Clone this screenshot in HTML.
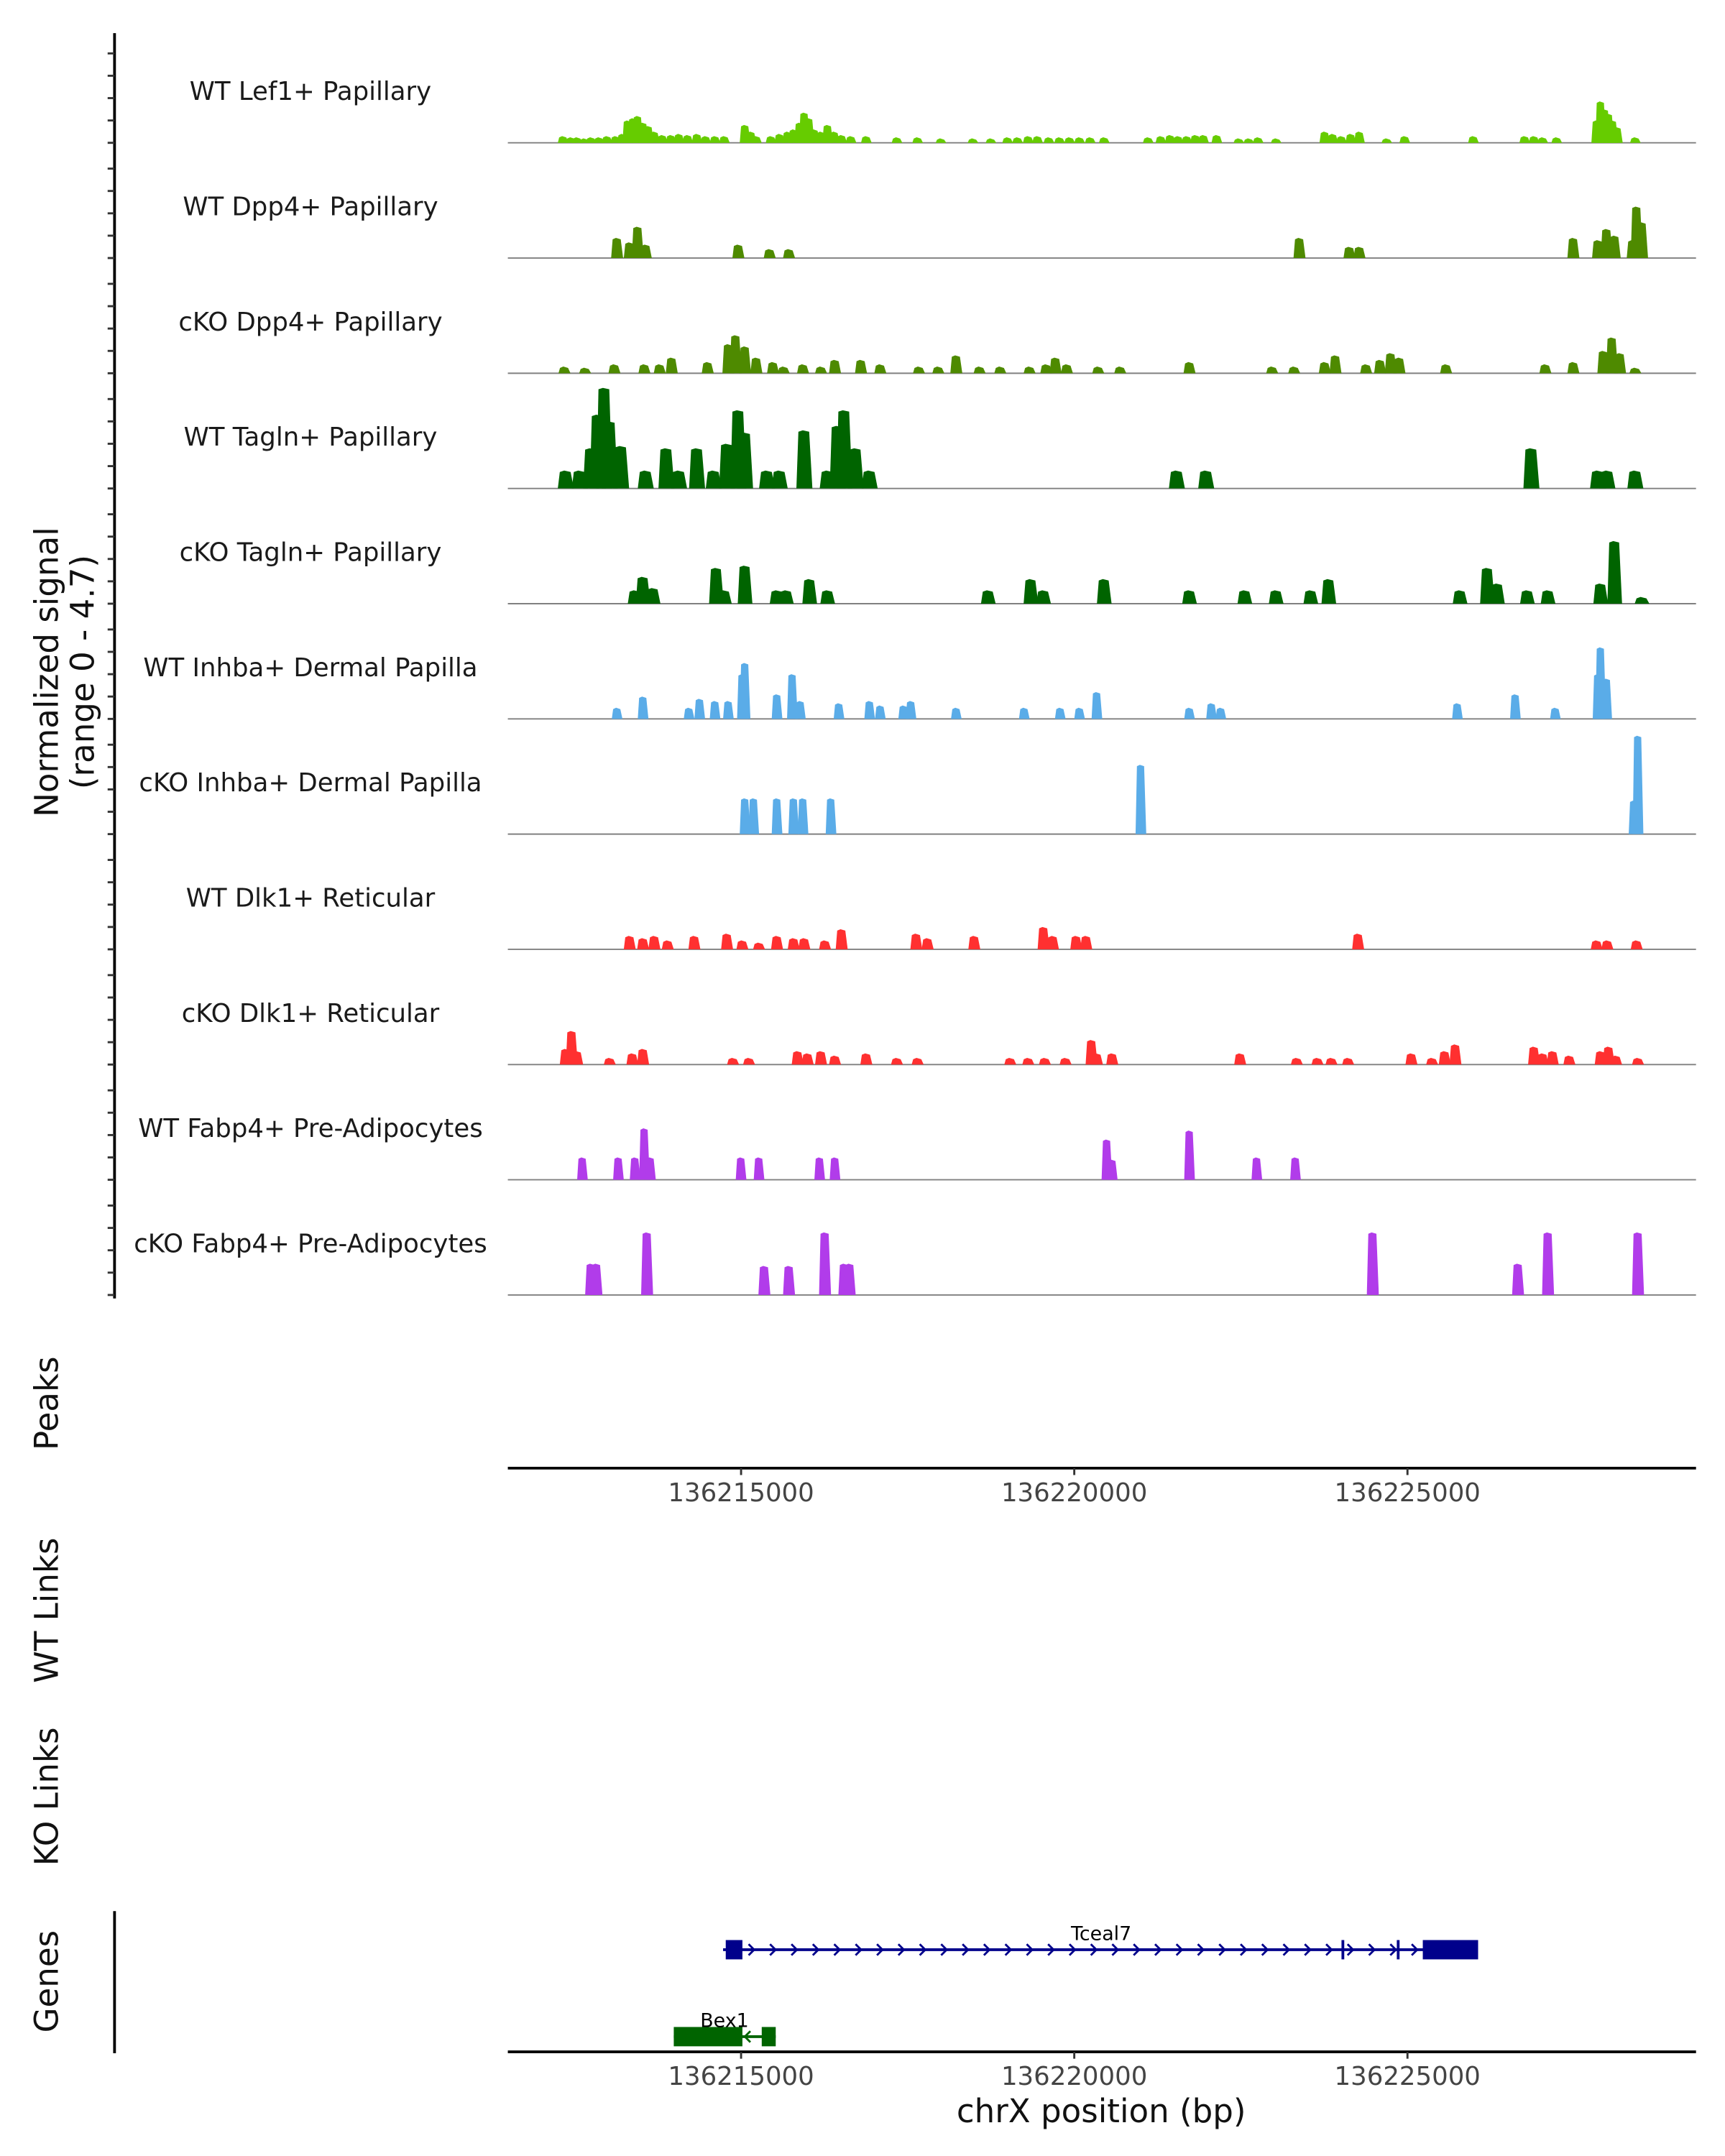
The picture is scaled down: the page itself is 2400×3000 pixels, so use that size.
<!DOCTYPE html>
<html><head><meta charset="utf-8"><style>
html,body{margin:0;padding:0;background:#fff}
svg{display:block}
text{font-family:"DejaVu Sans","Liberation Sans",sans-serif}
</style></head><body>
<svg id="chart" width="2400" height="3000" viewBox="0 0 1250 1562.5" xmlns="http://www.w3.org/2000/svg">
<text transform="translate(42,487) rotate(-90)" text-anchor="middle" font-size="23.5" fill="#111">Normalized signal</text>
<text transform="translate(68,487) rotate(-90)" text-anchor="middle" font-size="23.5" fill="#111">(range 0 - 4.7)</text>
<text transform="translate(42,1017) rotate(-90)" text-anchor="middle" font-size="23.5" fill="#111">Peaks</text>
<text transform="translate(42,1167) rotate(-90)" text-anchor="middle" font-size="23.5" fill="#111">WT Links</text>
<text transform="translate(42,1302) rotate(-90)" text-anchor="middle" font-size="23.5" fill="#111">KO Links</text>
<text transform="translate(42,1436) rotate(-90)" text-anchor="middle" font-size="23.5" fill="#111">Genes</text>
<text x="798" y="1538" text-anchor="middle" font-size="23.5" fill="#111">chrX position (bp)</text>
<line x1="83" y1="24" x2="83" y2="941" stroke="#000" stroke-width="2"/>
<line x1="83" y1="1385" x2="83" y2="1488" stroke="#000" stroke-width="2"/>
<line x1="368" y1="1064" x2="1229" y2="1064" stroke="#000" stroke-width="2"/>
<line x1="368" y1="1487" x2="1229" y2="1487" stroke="#000" stroke-width="2"/>
<g id="tracks"></g>
<g id="genes"></g>
</svg>
<script>
// genomic positions in kb on chrX (136,000 kb offset added below), values in normalized signal units
const xTicks = [136215000, 136220000, 136225000];
const trackNames = ["WT Lef1+ Papillary","WT Dpp4+ Papillary","cKO Dpp4+ Papillary","WT Tagln+ Papillary","cKO Tagln+ Papillary","WT Inhba+ Dermal Papilla","cKO Inhba+ Dermal Papilla","WT Dlk1+ Reticular","cKO Dlk1+ Reticular","WT Fabp4+ Pre-Adipocytes","cKO Fabp4+ Pre-Adipocytes"];
const trackColors = ["#66CC00","#4E8A00","#4E8A00","#006400","#006400","#5AACE8","#5AACE8","#FF3030","#FF3030","#B13CEA","#B13CEA"];
const lef1Pos = [212.33,212.45,212.54,212.65,212.75,212.87,212.99,213.12,213.22,213.30,213.38,213.45,213.53,213.61,213.70,213.82,213.95,214.07,214.20,214.34,214.47,214.61,214.75,215.06,215.15,215.23,215.45,215.58,215.70,215.79,215.88,215.95,216.02,216.10,216.20,216.30,216.40,216.51,216.65,216.88,217.34,217.65,218.00,218.48,218.75,219.00,219.15,219.31,219.45,219.62,219.78,219.93,220.08,220.24,220.45,221.11,221.30,221.44,221.56,221.69,221.82,221.94,222.14,222.47,222.62,222.76,223.03,223.76,223.88,224.01,224.15,224.28,224.69,224.96,225.99,226.76,226.90,227.03,227.24,227.84,227.90,227.96,228.02,228.08,228.15,228.42];
const lef1Val = [0.3,0.25,0.25,0.2,0.25,0.25,0.3,0.3,0.4,1.0,1.1,1.2,0.9,0.75,0.5,0.35,0.35,0.4,0.35,0.4,0.3,0.3,0.3,0.8,0.5,0.3,0.3,0.4,0.5,0.6,0.9,1.35,1.1,0.6,0.5,0.8,0.5,0.35,0.3,0.3,0.25,0.25,0.2,0.2,0.2,0.25,0.25,0.3,0.3,0.25,0.25,0.25,0.25,0.25,0.25,0.25,0.3,0.35,0.3,0.3,0.35,0.35,0.35,0.2,0.2,0.25,0.2,0.5,0.4,0.3,0.4,0.5,0.2,0.3,0.3,0.3,0.3,0.25,0.25,1.0,1.85,1.5,1.3,1.0,0.7,0.25];
const wtDpp4Pos = [213.14,213.33,213.45,213.57,214.96,215.43,215.72,223.38,224.13,224.28,227.49,227.86,227.99,228.11,228.38,228.44,228.52];
const wtDpp4Val = [0.9,0.7,1.4,0.6,0.6,0.4,0.4,0.9,0.5,0.5,0.9,0.8,1.3,1.0,0.8,2.3,1.6];
const koDpp4Pos = [212.35,212.66,213.10,213.55,213.78,213.96,214.50,214.81,214.92,215.06,215.23,215.48,215.64,215.93,216.20,216.41,216.80,217.09,217.67,217.96,218.23,218.58,218.89,219.33,219.58,219.72,219.89,220.36,220.69,221.73,222.97,223.30,223.76,223.92,224.38,224.59,224.75,224.88,225.58,227.07,227.49,227.94,228.07,228.19,228.42];
const koDpp4Val = [0.3,0.25,0.4,0.4,0.4,0.7,0.5,1.3,1.7,1.2,0.7,0.5,0.3,0.4,0.3,0.6,0.6,0.4,0.3,0.3,0.8,0.3,0.3,0.3,0.4,0.7,0.4,0.3,0.3,0.5,0.3,0.3,0.5,0.8,0.4,0.6,0.9,0.7,0.4,0.4,0.5,1.0,1.6,0.9,0.25];
const wtTaglnPos = [212.37,212.58,212.75,212.85,212.95,213.03,213.20,213.57,213.88,214.07,214.34,214.59,214.79,214.96,215.06,215.39,215.58,215.95,216.30,216.45,216.55,216.72,216.93,221.54,221.98,226.86,227.86,228.00,228.42];
const wtTaglnVal = [0.8,0.8,1.8,3.3,4.5,3.0,1.9,0.8,1.8,0.8,1.8,0.8,2.0,3.5,2.5,0.8,0.8,2.6,0.8,2.8,3.5,1.8,0.8,0.8,0.8,1.8,0.8,0.8,0.8];
const koTaglnPos = [213.41,213.53,213.68,214.63,214.75,215.06,215.54,215.68,216.03,216.30,218.71,219.35,219.54,220.45,221.73,222.56,223.03,223.55,223.82,225.79,226.20,226.35,226.80,227.11,227.90,228.11,228.52];
const koTaglnVal = [0.6,1.2,0.7,1.6,0.6,1.7,0.6,0.6,1.1,0.6,0.6,1.1,0.6,1.1,0.6,0.6,0.6,0.6,1.1,0.6,1.6,0.9,0.6,0.6,0.9,2.8,0.3];
const wtInhbaPos = [213.14,213.53,214.22,214.38,214.61,214.81,215.02,215.06,215.54,215.77,215.89,216.47,216.93,217.09,217.44,217.55,218.23,219.25,219.79,220.08,220.34,221.73,222.06,222.20,225.75,226.62,227.22,227.86,227.90,227.99];
const wtInhbaVal = [0.5,1.0,0.5,0.9,0.8,0.8,2.0,2.5,1.1,2.0,0.8,0.7,0.8,0.6,0.6,0.8,0.5,0.5,0.5,0.5,1.2,0.5,0.7,0.5,0.7,1.1,0.5,2.0,3.2,1.8];
const koInhbaPos = [215.06,215.19,215.54,215.79,215.93,216.35,221.00,228.40,228.46];
const koInhbaVal = [1.6,1.6,1.6,1.6,1.6,1.6,3.1,1.5,4.4];
const wtDlk1Pos = [213.33,213.53,213.70,213.90,214.30,214.79,215.02,215.27,215.54,215.79,215.95,216.26,216.51,217.63,217.80,218.50,219.54,219.68,220.03,220.18,224.26,227.84,228.00,228.44];
const wtDlk1Val = [0.6,0.5,0.6,0.4,0.6,0.7,0.4,0.3,0.6,0.5,0.5,0.4,0.9,0.7,0.5,0.6,1.0,0.6,0.6,0.6,0.7,0.4,0.4,0.4];
const koDlk1Pos = [212.37,212.46,212.54,213.03,213.37,213.53,214.88,215.12,215.85,216.00,216.20,216.41,216.88,217.34,217.65,219.04,219.31,219.56,219.87,220.26,220.34,220.57,222.49,223.34,223.65,223.86,224.11,225.06,225.37,225.56,225.72,226.90,227.03,227.18,227.43,227.90,228.02,228.13,228.46];
const koDlk1Val = [0.7,1.5,0.6,0.3,0.5,0.7,0.3,0.3,0.6,0.5,0.6,0.4,0.5,0.3,0.3,0.3,0.3,0.3,0.3,1.1,0.5,0.5,0.5,0.3,0.3,0.3,0.3,0.5,0.3,0.6,0.9,0.8,0.5,0.6,0.4,0.6,0.8,0.4,0.3];
const wtFabp4Pos = [212.62,213.16,213.41,213.55,213.64,215.00,215.27,216.18,216.41,220.49,220.57,221.73,222.74,223.32];
const wtFabp4Val = [1.0,1.0,1.0,2.3,1.0,1.0,1.0,1.0,1.0,1.8,0.9,2.2,1.0,1.0];
const koFabp4Pos = [212.75,212.83,213.59,215.35,215.72,216.26,216.55,216.63,224.48,226.66,227.11,228.46];
const koFabp4Val = [1.4,1.4,2.8,1.3,1.3,2.8,1.4,1.4,2.8,1.4,2.8,2.8];
const trackPos = [lef1Pos,wtDpp4Pos,koDpp4Pos,wtTaglnPos,koTaglnPos,wtInhbaPos,koInhbaPos,wtDlk1Pos,koDlk1Pos,wtFabp4Pos,koFabp4Pos];
const trackVal = [lef1Val,wtDpp4Val,koDpp4Val,wtTaglnVal,koTaglnVal,wtInhbaVal,koInhbaVal,wtDlk1Val,koDlk1Val,wtFabp4Val,koFabp4Val];
const tcealExons = [[214.77,215.02],[224.01,224.05],[224.84,224.88],[225.23,226.06]];
const tcealSpan = [214.73,226.06];
const bex1Exons = [[213.99,215.02],[215.31,215.52]];
const bex1Span = [213.99,215.52];

const NS="http://www.w3.org/2000/svg";
const X0=368, X1=1229, BP0=136211500, BP1=136229330;
function xs(bp){return X0+(bp-BP0)/(BP1-BP0)*(X1-X0);}
function kb(v){return 136000000+v*1000;}
const UNIT=16.2, B0=103.5, STEP=83.5;
function ys(i,v){return B0+i*STEP-v*UNIT;}
function mk(tag,attrs,parent){const e=document.createElementNS(NS,tag);for(const k in attrs)e.setAttribute(k,attrs[k]);parent.appendChild(e);return e;}
const svg=document.getElementById('chart');
const tg=document.getElementById('tracks');
const hw=[0.08,0.09,0.09,0.12,0.11,0.08,0.08,0.09,0.09,0.08,0.09];
trackNames.forEach((name,i)=>{
  const b=ys(i,0);
  for(let k=0;k<5;k++){
    const t=mk('line',{x1:78,x2:83,y1:ys(i,k),y2:ys(i,k),stroke:'#333','stroke-width':1.5},tg);
    
    
  }
  const lbl=mk('text',{x:225,y:b-31,'text-anchor':'middle','font-size':18.5,fill:'#1a1a1a'},tg);
  lbl.textContent=name;
  
  
  const bl=mk('line',{x1:X0,x2:X1,y1:b,y2:b,stroke:'#808080','stroke-width':1},tg);
  
  
  const P=trackPos[i], V=trackVal[i];
  P.forEach((p,j)=>{
    const h=hw[i], top=ys(i,V[j]);
    const pts=[[xs(kb(p-h)),b],[xs(kb(p-h*0.75)),top+1],[xs(kb(p-h*0.2)),top],[xs(kb(p+h*0.6)),top+1],[xs(kb(p+h)),b]];
    const pg=mk('polygon',{points:pts.map(q=>q.join(',')).join(' '),fill:trackColors[i]},tg);
    
    
  });
});
xTicks.forEach(t=>{
  [1064,1487].forEach(y=>{
    const l=mk('line',{x1:xs(t),x2:xs(t),y1:y,y2:y+5,stroke:'#333','stroke-width':1.5},svg);
    
    
    const tx=mk('text',{x:xs(t),y:y+24,'text-anchor':'middle','font-size':18.5,fill:'#444'},svg);
    tx.textContent=String(t);
    
    
  });
});
const gg=document.getElementById('genes');
function gene(name,span,exons,y,color,dir,lx){
  const ln=mk('line',{x1:xs(kb(span[0])),x2:xs(kb(span[1])),y1:y,y2:y,stroke:color,'stroke-width':2},gg);
  
  
  const a=xs(kb(span[0])), c=xs(kb(span[1]));
  for(let x=a+6;x<c-4;x+=15.5){
    const ar=mk('polyline',{points: dir>0?`${x-3},${y-4} ${x+1},${y} ${x-3},${y+4}`:`${x+3},${y-4} ${x-1},${y} ${x+3},${y+4}`,fill:'none',stroke:color,'stroke-width':1.5},gg);
    
    
  }
  exons.forEach(e=>{
    const w=xs(kb(e[1]))-xs(kb(e[0]));
    const r=mk('rect',{x:xs(kb(e[0])),y:y-7,width:Math.max(w,2),height:14,fill:color},gg);
    
    
  });
  const t=mk('text',{x:lx,y:y-7,'text-anchor':'middle','font-size':14,fill:'#000'},gg);
  t.textContent=name;
  
  
}
gene('Tceal7',tcealSpan,tcealExons,1413,'#00008B',1,798);
gene('Bex1',bex1Span,bex1Exons,1476,'#006400',-1,525);
</script>
</body></html>
